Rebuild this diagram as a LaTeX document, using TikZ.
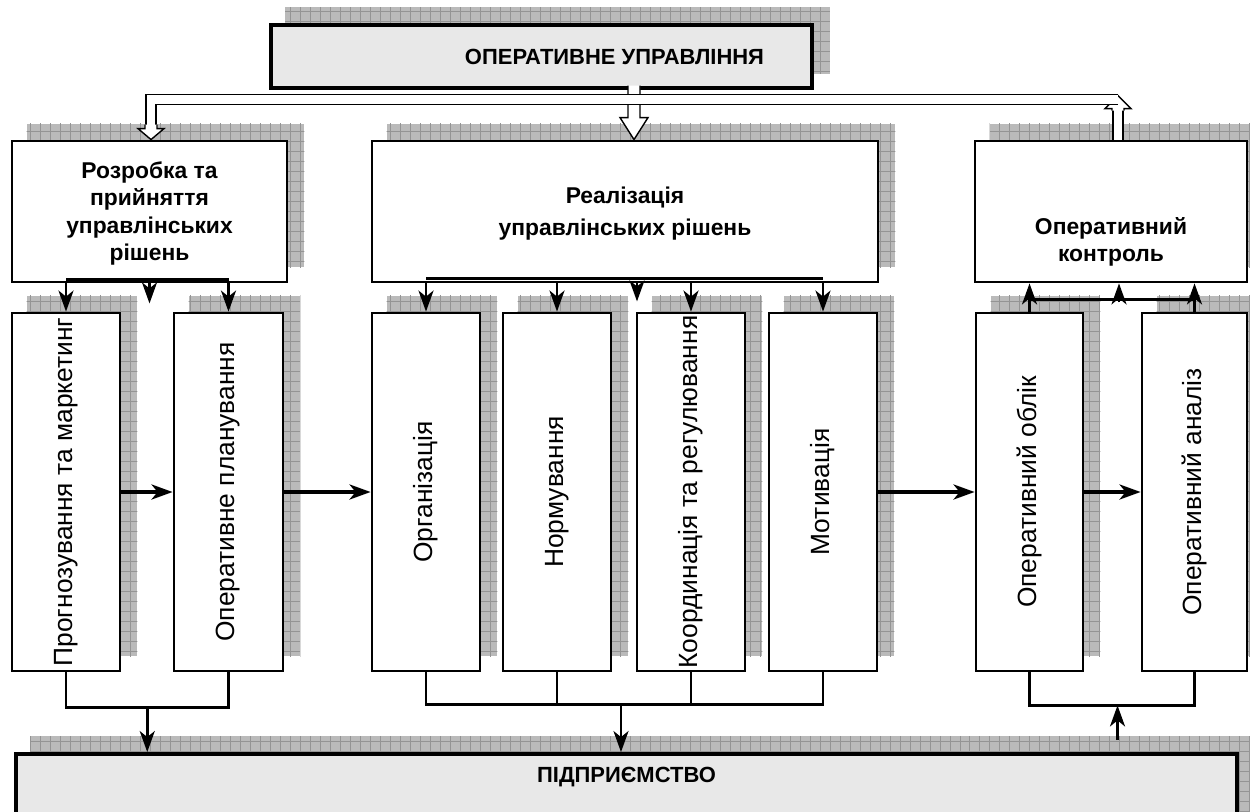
\documentclass[tikz,border=0pt]{standalone}
\usepackage{fontspec}
\setmainfont{Liberation Sans}
\usetikzlibrary{arrows.meta,positioning,fit,calc,backgrounds,patterns.meta}

\tikzset{
  blockbox/.style={draw, line width=1.6pt, fill=white, inner sep=0pt},
  bigbox/.style={draw, line width=2.2pt, fill=black!9, inner sep=0pt},
  tallbox/.style={draw, line width=1.6pt, fill=white, inner sep=0pt},
  blocktext/.style={anchor=center, align=center, font=\bfseries\fontsize{13}{15.5}\selectfont},
  talltext/.style={anchor=center, rotate=90, font=\fontsize{15}{17}\selectfont},
  titlefont/.style={anchor=center, font=\bfseries\fontsize{12.5}{14}\selectfont},
  shadowbox/.style={fill=black!27, postaction={pattern={Hatch[angle=0,distance=0.2cm,line width=0.35pt]}, pattern color=black!42}},
  arr/.style={-{Stealth[length=0.42cm,width=0.3cm,inset=0.12cm]}, line width=1.5pt},
  harr/.style={arr, line width=2pt},
  linkbar/.style={line width=1.6pt},
  joinline/.style={line width=1.4pt},
  pipe/.style={double=white, double distance=0.17cm, line width=0.8pt},
  hollow/.style={draw, fill=white, line width=0.8pt, line join=miter}
}

\begin{document}
\begin{tikzpicture}[x=0.02cm, y=-0.02cm]
  \useasboundingbox (0,0) rectangle (1250,811);

  % top and bottom
  \node[bigbox, fit={(271,25) (812,88)},
    label={[titlefont, xshift=1.46cm]center:ОПЕРАТИВНЕ УПРАВЛІННЯ}] (mgmt) {};
  \node[bigbox, fit={(16,754) (1237,830)},
    label={[titlefont, yshift=-0.5cm]north:ПІДПРИЄМСТВО}] (firm) {};

  % functions
  \node[blockbox, fit={(12,141) (287,282)},
    label={[blocktext, yshift=-0.04cm]center:Розробка та\\прийняття\\управлінських\\рішень}] (dev) {};
  \node[blockbox, fit={(372,141) (878,282)},
    label={[blocktext, yshift=-0.04cm]center:Реалізація\\[3pt]управлінських рішень}] (impl) {};
  \node[blockbox, fit={(975,141) (1247,282)},
    label={[blocktext, yshift=-0.61cm]center:Оперативний\\контроль}] (ctrl) {};

  % stages
  \node[tallbox, fit={(12,313) (120,671)}, label={[talltext]center:Прогнозування та маркетинг}] (forc) {};
  \node[tallbox, fit={(174,313) (283,671)}, label={[talltext]center:Оперативне планування}] (plan) {};
  \node[tallbox, fit={(372,313) (480,671)}, label={[talltext]center:Організація}] (org) {};
  \node[tallbox, fit={(503,313) (611,671)}, label={[talltext]center:Нормування}] (norm) {};
  \node[tallbox, fit={(637,313) (745,671)}, label={[talltext]center:Координація та регулювання}] (coord) {};
  \node[tallbox, fit={(769,313) (877,671)}, label={[talltext]center:Мотивація}] (motiv) {};
  \node[tallbox, fit={(976,313) (1083,671)}, label={[talltext]center:Оперативний облік}] (acc) {};
  \node[tallbox, fit={(1142,313) (1247,671)}, label={[talltext]center:Оперативний аналіз}] (anal) {};

  % shadows
  \begin{scope}[on background layer]
    \foreach \n in {mgmt,dev,impl,ctrl,forc,plan,org,norm,coord,motiv,acc,anal,firm}
      \fill[shadowbox] ($(\n.south west)+(16,-16)$) rectangle ($(\n.north east)+(16,-16)$);
  \end{scope}

  % hollow links from the top
  \draw[hollow] ($(impl.north)+(3,-54)$) -- ++(0,32) -- ++(-8,0) -- ++(14,22) -- ++(14,-22) -- ++(-8,0) -- ++(0,-32);
  \draw[pipe] ($(ctrl.north)+(7,0)$) -- ($(ctrl.north)+(7,-31)$);
  \draw[hollow] ($(ctrl.north)+(1,-29)$) -- ++(0,-2) -- ++(-7,0) -- ++(13,-13) -- ++(13,13) -- ++(-7,0) -- ++(0,2);
  \draw[pipe] ($(ctrl.north)+(7,-40)$) -- ($(dev.north)+(1.5,-40)$) -- ($(dev.north)+(1.5,-11)$);
  \draw[hollow] ($(dev.north)+(-4.5,-15)$) -- ++(0,4) -- ++(-7,0) -- ++(13,11) -- ++(13,-11) -- ++(-7,0) -- ++(0,-4);

  % down to the stages
  \draw[linkbar] ($(dev.south -| forc.north)+(0,-4)$) -- ($(dev.south -| plan.north)+(0,-4)$);
  \foreach \b in {forc,plan}
    \draw[arr] (dev.south -| \b.north) -- (\b.north);
  \draw[arr] (dev.south) -- ++(0,20);

  \draw[linkbar] ($(impl.south -| org.north)+(0,-5)$) -- ($(impl.south -| motiv.north)+(0,-5)$);
  \foreach \b in {org,norm,coord,motiv}
    \draw[arr] (impl.south -| \b.north) -- (\b.north);
  \draw[arr] ($(impl.south)+(12,0)$) -- ++(0,18);

  % up to control
  \draw[joinline] ($(acc.north)+(0,-12)$) -- ($(acc.north -| anal.north)+(0,-12)$);
  \foreach \b in {acc,anal}
    \draw[arr] (\b.north) -- (\b.north |- ctrl.south);
  \draw[arr] ($(ctrl.south)+(8,19)$) -- ($(ctrl.south)+(8,0)$);

  % sequence
  \draw[harr] (forc) -- (plan);
  \draw[harr] (plan) -- (org);
  \draw[harr] (motiv) -- (acc);
  \draw[harr] (acc) -- (anal);

  % to and from the enterprise
  \draw[joinline] (forc.south) -- ++(0,35) -| (plan.south);
  \coordinate (lb) at ($(forc.south)!0.5!(plan.south)+(0,35)$);
  \draw[arr] (lb) -- (lb |- firm.north);

  \draw[joinline] (org.south) -- ++(0,32) -| (motiv.south);
  \foreach \b in {norm,coord}
    \draw[joinline] (\b.south) -- ++(0,32);
  \coordinate (mb) at ($(org.south)+(195,32)$);
  \draw[arr] (mb) -- (mb |- firm.north);

  \draw[joinline] (acc.south) -- ++(0,33) -| (anal.south);
  \coordinate (rb) at ($(acc.south)+(88,33)$);
  \draw[arr] ($(rb |- firm.north)+(0,-12)$) -- (rb);
\end{tikzpicture}
\end{document}
